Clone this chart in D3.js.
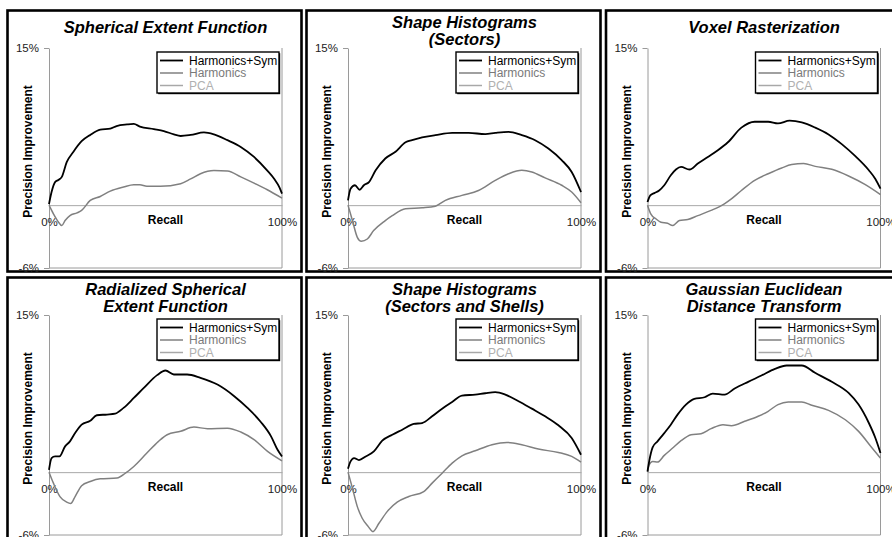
<!DOCTYPE html>
<html>
<head>
<meta charset="utf-8">
<script src="https://cdn.jsdelivr.net/npm/d3@7"></script>
<style>
  body { margin: 0; background: #fff; }
  svg { display: block; font-family: "Liberation Sans", Arial, sans-serif; }
</style>
</head>
<body>
<svg id="vis" width="892" height="537"></svg>
<script>

// values: [recall %, precision improvement %]
const sefSym = [[0,0.1],[1.1,1.25],[2.6,2.2],[4,2.4],[5.5,2.7],[7.6,4.1],[10.5,5.1],[14,6.1],[17.7,6.7],[22,7.2],[26.3,7.3],[29,7.55],[33.5,7.7],[36.4,7.75],[39,7.5],[45,7.26],[49.3,7.07],[53.6,6.75],[56.5,6.6],[60.8,6.7],[66.5,6.94],[70.8,6.75],[76.6,6.2],[82.3,5.56],[88,4.6],[93.7,3.3],[96.7,2.5],[98.9,1.7],[100,1.1]];
const sefHarm = [[0,0],[1.9,-0.83],[4,-1.6],[5.5,-1.95],[6.9,-1.47],[9,-1.0],[12,-0.74],[14,-0.5],[17.7,0.45],[22,0.83],[26.3,1.34],[32,1.73],[36.4,1.95],[39,1.95],[42,1.8],[47.8,1.8],[56.5,2.05],[60.8,2.5],[65,3.0],[70.8,3.3],[76.6,3.26],[82.3,2.7],[88,2.1],[93.7,1.47],[100,0.67]];

const shsSym = [[0,0.45],[1.1,1.57],[3,1.9],[5,1.47],[6.8,1.9],[9,2.2],[11.8,3.3],[16,4.45],[20.4,5.1],[24.7,6.0],[27.5,6.2],[31.8,6.46],[37.5,6.68],[44.7,6.9],[51.8,6.9],[58.9,6.78],[63.2,6.9],[68.9,7.0],[74.6,6.68],[80.3,6.2],[86,5.4],[91.7,4.3],[96,3.17],[100,1.25]];
const shsHarm = [[0,0],[1.9,-1.47],[4,-3.07],[5.7,-3.45],[8.3,-3.23],[11,-2.43],[16,-1.47],[19,-1.0],[24.7,-0.35],[31.8,-0.26],[37.5,-0.1],[41.8,0.45],[48.9,0.93],[56,1.4],[63.2,2.37],[68.9,3.0],[74.6,3.33],[78.9,3.17],[84.6,2.6],[91.7,1.9],[96,1.25],[100,0.22]];

const voxSym = [[0,0.3],[1.2,0.93],[2.9,1.15],[5,1.4],[7.2,1.9],[10,2.85],[12.2,3.4],[14.4,3.65],[18,3.4],[21.6,3.97],[25.9,4.6],[30.2,5.24],[34.5,6.0],[40.3,7.4],[46,7.96],[51.8,7.96],[56,7.8],[61,8.06],[66.2,7.9],[72,7.4],[77.7,6.75],[83.5,5.8],[89.2,4.67],[95,3.33],[97.8,2.5],[100,1.57]];
const voxHarm = [[0,0],[1.4,-0.83],[3.6,-1.3],[5.8,-1.63],[8.6,-1.73],[10.8,-1.95],[13.7,-1.47],[17.3,-1.37],[21.6,-1.0],[27.3,-0.5],[33,0.13],[36,0.6],[40.3,1.4],[46,2.37],[51.8,3.0],[57.6,3.55],[61.9,3.87],[67,3.97],[72,3.7],[79.1,3.42],[86.3,2.78],[93.5,1.95],[100,1.0]];

const rsefSym = [[0,0.22],[1.1,1.34],[2.6,1.5],[4.5,1.5],[6.9,2.46],[9,2.94],[11.2,3.73],[14,4.53],[17.7,4.9],[20.5,5.43],[24.9,5.5],[28.4,5.58],[32,6.13],[36.4,7.08],[40.7,8.04],[46.4,9.26],[50,9.7],[53.6,9.32],[59.3,9.32],[65,9.0],[72.3,8.36],[79.5,7.25],[85.2,6.13],[90.9,4.79],[95.3,3.42],[98.1,2.14],[100,1.5]];
const rsefHarm = [[0,0],[1.9,-1.05],[4.7,-2.33],[7.6,-2.87],[9.3,-3.0],[11.2,-2.33],[14,-1.3],[17.7,-0.9],[22,-0.64],[29.2,-0.57],[32.8,-0.1],[36.4,0.54],[42,1.82],[47,2.94],[50.7,3.57],[56.5,3.9],[62.2,4.3],[68,4.15],[76.6,4.2],[82.3,3.83],[88,3.1],[93.8,1.98],[100,1.08]];

const shssSym = [[0,0.32],[1.1,1.02],[2.6,1.34],[4.7,1.15],[7.6,1.5],[11.1,1.98],[14.7,3.0],[19,3.57],[23.3,4.05],[28.2,4.6],[31.8,4.69],[36.1,5.33],[40.4,6.06],[44.7,6.7],[48.9,7.3],[54.6,7.4],[58.9,7.53],[63.2,7.63],[67.5,7.4],[73.2,6.77],[78.9,6.06],[84.6,5.33],[90.3,4.47],[96,3.26],[100,1.66]];
const shssHarm = [[0,0],[1.9,-1.53],[4,-3.29],[6.1,-4.4],[8.7,-5.2],[10.7,-5.68],[13.3,-4.88],[16.8,-3.77],[21.1,-2.87],[26.1,-2.33],[32.5,-1.85],[36.1,-1.05],[40.4,-0.1],[44.7,0.86],[48.9,1.56],[54.6,2.04],[61.8,2.62],[68.2,2.84],[74.6,2.62],[81.7,2.2],[90.3,1.88],[96,1.5],[100,0.96]];

const gedtSym = [[0,0.06],[0.7,1.0],[2.2,2.36],[4.3,2.94],[7.2,3.73],[10,4.53],[12.9,5.49],[16.5,6.45],[20.1,7.0],[24.5,7.15],[28,7.5],[33.1,7.4],[37.4,7.98],[43.2,8.62],[48.9,9.22],[54.7,9.86],[59.7,10.18],[66.2,10.18],[71.9,9.48],[79.1,8.62],[86.3,7.56],[90.6,6.45],[95,4.69],[97.8,3.26],[100,1.82]];
const gedtHarm = [[0,0],[0.7,0.7],[2.2,1.02],[4.3,0.96],[7.2,1.6],[10.8,2.3],[14.4,3.0],[18.7,3.57],[23,3.67],[27.3,4.15],[32.4,4.53],[36,4.44],[41.7,4.85],[47.5,5.33],[51.8,5.81],[56,6.45],[60.4,6.7],[66.2,6.7],[70.5,6.38],[77.7,5.9],[84.9,5.0],[90.6,3.89],[96.4,2.3],[100,1.34]];

const titles = [
  ["Spherical Extent Function"],
  ["Shape Histograms", "(Sectors)"],
  ["Voxel Rasterization"],
  ["Radialized Spherical", "Extent Function"],
  ["Shape Histograms", "(Sectors and Shells)"],
  ["Gaussian Euclidean", "Distance Transform"]
];
const symSeries = [sefSym, shsSym, voxSym, rsefSym, shssSym, gedtSym];
const harmSeries = [sefHarm, shsHarm, voxHarm, rsefHarm, shssHarm, gedtHarm];
const legendLabels = ["Harmonics+Sym", "Harmonics", "PCA"];
const precisionTicks = [15, -6];
const recallTicks = [0, 100];

const chart = {

    colors : {
        sym : "#000000",
        harm : "#808080",
        pca : "#a8a8a8",
        axis : "#9a9a9a"
    },

    layout : {
        colX : [7.5, 306.5, 606],
        rowY : [10.5, 277.5],
        w : 294,
        h : 261,
        plot : { left : 41.5, right : 274.5, top : 37.5, bottom : 257.5 }
    },

    panel : function(svg, i) {

        const L = chart.layout;
        const px = L.colX[i % 3];
        const py = L.rowY[Math.floor(i / 3)];

        const g = svg.append("g").attr("transform", `translate(${px},${py})`);

        // panel frame
        g.append("rect")
            .attr("width", L.w).attr("height", L.h)
            .attr("fill", "none").attr("stroke", "#000").attr("stroke-width", 2.6);

        const x = d3.scaleLinear().domain([0, 100]).range([L.plot.left, L.plot.right]);
        const y = d3.scaleLinear().domain([-6, 15]).range([L.plot.bottom, L.plot.top]);

        // plot area right + bottom edges
        g.append("path")
            .attr("d", `M${x(0)},${y(-6)}H${x(100)}V${y(15)}`)
            .attr("fill", "none").attr("stroke", chart.colors.axis);

        // y axis
        const ya = g.append("g")
            .attr("transform", `translate(${x(0)},0)`)
            .call(d3.axisLeft(y).tickValues(precisionTicks).tickSize(5).tickPadding(5)
                .tickSizeOuter(0).tickFormat(d => d + "%"));

        // x axis at zero (PCA baseline)
        const xa = g.append("g")
            .attr("transform", `translate(0,${y(0)})`)
            .call(d3.axisBottom(x).tickValues(recallTicks).tickSize(0).tickPadding(13)
                .tickSizeOuter(0).tickFormat(d => d + "%"));

        [ya, xa].forEach(a => {
            a.select(".domain").attr("stroke", chart.colors.axis);
            a.selectAll(".tick line").attr("stroke", chart.colors.axis);
            a.selectAll("text").attr("font-size", 11.5).attr("fill", "#222")
                .attr("font-family", "Liberation Sans, Arial, sans-serif");
        });
        xa.select(".domain").attr("stroke", chart.colors.pca);

        // series
        const line = d3.line().x(d => x(d[0])).y(d => y(d[1])).curve(d3.curveMonotoneX);

        g.append("path").datum(harmSeries[i])
            .attr("d", line).attr("fill", "none")
            .attr("stroke", chart.colors.harm).attr("stroke-width", 1.5);

        g.append("path").datum(symSeries[i])
            .attr("d", line).attr("fill", "none")
            .attr("stroke", chart.colors.sym).attr("stroke-width", 1.8);

        // axis titles
        g.append("text")
            .attr("x", (x(0) + x(100)) / 2).attr("y", y(0) + 19)
            .attr("text-anchor", "middle").attr("font-size", 12).attr("font-weight", "bold")
            .text("Recall");

        g.append("text")
            .attr("transform", `translate(24.8,141) rotate(-90)`)
            .attr("text-anchor", "middle").attr("font-size", 12).attr("font-weight", "bold")
            .text("Precision Improvement");

        // title
        const t = titles[i];
        const tx = (x(0) + x(100)) / 2;
        const base = t.length === 1 ? [22.5] : [17, 34];
        t.forEach((s, k) => {
            g.append("text")
                .attr("x", tx).attr("y", base[k])
                .attr("text-anchor", "middle")
                .attr("font-size", 16.5).attr("font-weight", "bold").attr("font-style", "italic")
                .text(s);
        });

        chart.legend(g);
    },

    legend : function(g) {

        const lg = g.append("g").attr("transform", "translate(149.5,41.5)");

        lg.append("rect")
            .attr("x", 1.2).attr("y", 1.2).attr("width", 122).attr("height", 41)
            .attr("fill", "#000");
        lg.append("rect")
            .attr("width", 122).attr("height", 41)
            .attr("fill", "#fff").attr("stroke", "#000").attr("stroke-width", 1.4);

        const cols = [chart.colors.sym, chart.colors.harm, chart.colors.pca];
        const txtCols = ["#000", "#7a7a7a", "#b0b0b0"];
        const widths = [1.8, 1.5, 1.5];

        legendLabels.forEach((lab, k) => {
            const cy = 8.5 + k * 12.5;
            lg.append("line")
                .attr("x1", 3).attr("x2", 26).attr("y1", cy).attr("y2", cy)
                .attr("stroke", cols[k]).attr("stroke-width", widths[k]);
            lg.append("text")
                .attr("x", 32).attr("y", cy + 4.3)
                .attr("font-size", 12).attr("fill", txtCols[k])
                .text(lab);
        });
    },

    init : function() {
        const svg = d3.select("svg#vis");
        titles.forEach((t, i) => chart.panel(svg, i));
    }
};

chart.init();
</script>
</body>
</html>
